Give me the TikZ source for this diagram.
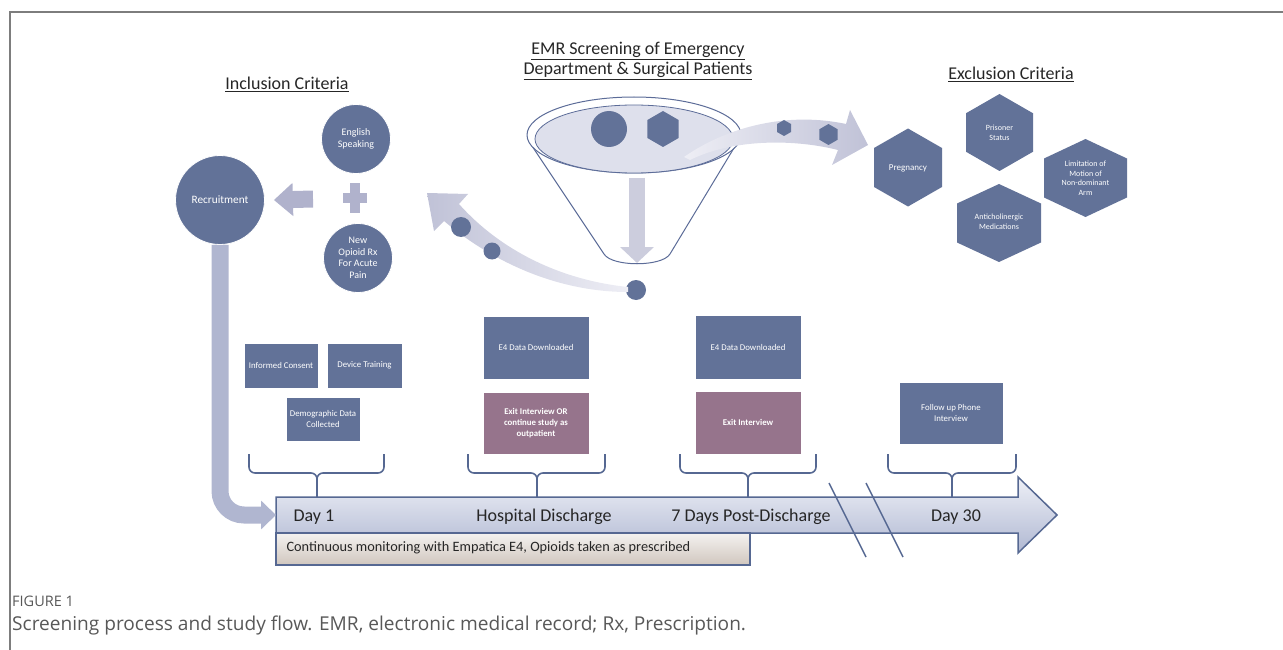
\documentclass[tikz,border=0pt]{standalone}
\usepackage{fontspec}
\setmainfont{Carlito}
\newfontfamily\capfont{Open Sans}
\usetikzlibrary{arrows.meta}

\definecolor{boxblue}{RGB}{98,114,152}
\definecolor{mauve}{RGB}{150,116,140}
\definecolor{plusgray}{RGB}{176,178,204}
\definecolor{recgray}{RGB}{176,182,208}
\definecolor{arrowdark}{RGB}{192,194,215}
\definecolor{arrowlight}{RGB}{238,238,245}
\definecolor{funnelgray}{RGB}{204,205,221}
\definecolor{funnelline}{RGB}{92,108,152}
\definecolor{funnelfill}{RGB}{222,224,236}
\definecolor{lineblue}{RGB}{86,104,146}
\definecolor{tltop}{RGB}{238,240,247}
\definecolor{tlbottom}{RGB}{176,184,210}
\definecolor{beigetop}{RGB}{244,242,240}
\definecolor{beigebot}{RGB}{208,198,190}
\definecolor{titlegray}{RGB}{38,38,38}
\definecolor{framegray}{RGB}{125,125,125}
\definecolor{capgray}{RGB}{88,88,88}

\tikzset{
  taskbox/.style={fill=boxblue, draw=white, line width=0.8pt, text=white,
    align=center, inner sep=2pt, font=\fontsize{8.8}{11}\selectfont},
  exitbox/.style={taskbox, fill=mauve, font=\fontsize{8.8}{11}\selectfont\bfseries},
  critcircle/.style={circle, fill=boxblue, draw=white, line width=0.8pt,
    text=white, align=center, inner sep=0pt, font=\fontsize{10}{11.5}\selectfont},
  hextext/.style={text=white, align=center, font=\fontsize{8}{9.5}\selectfont},
  heading/.style={text=titlegray, align=center, font=\fontsize{18}{20}\selectfont},
  tllabel/.style={text=titlegray, font=\fontsize{18}{20}\selectfont},
  bracket/.style={draw=lineblue, line width=1.6pt, rounded corners=6pt},
  passdot/.style={circle, fill=boxblue, minimum size=20pt, inner sep=0pt},
  inarrow/.style={draw=plusgray, line width=17pt, -{Triangle[length=19pt,width=32pt]}},
  recarrow/.style={draw=recgray, line width=17pt, rounded corners=24pt,
    -{Triangle[length=15pt,width=28pt]}},
  funnelarrow/.style={draw=funnelgray, line width=16pt, -{Triangle[length=16pt,width=33pt]}},
}

% hexagon fill: centre x, centre y, half width, half height
\newcommand\hexfill[4]{\fill[boxblue] (#1,#2-#4) -- (#1+#3,#2-#4/2) -- (#1+#3,#2+#4/2)
  -- (#1,#2+#4) -- (#1-#3,#2+#4/2) -- (#1-#3,#2-#4/2) -- cycle;}

\begin{document}
\begin{tikzpicture}[x=1pt,y=-1pt]
\useasboundingbox (0,0) rectangle (1283,650);
\draw[framegray, line width=1.5pt] (10,650) -- (10,12) -- (1283,12);

% headings
\node[heading] (inchead) at (287,84) {\underline{Inclusion Criteria}};
\node[heading] (emrhead) at (638,61) {\underline{EMR Screening of Emergency}\\\underline{Department \& Surgical Patients}};
\node[heading] (exhead) at (1011,74) {\underline{Exclusion Criteria}};

% inclusion criteria
\node[critcircle, minimum size=69pt] (english) at (356,139) {English\\Speaking};
\fill[plusgray] (343,193) rectangle (367,203);
\fill[plusgray] (350,183) rectangle (360,213);
\node[critcircle, minimum size=69pt] (opioid) at (358,258) {New\\Opioid Rx\\For Acute\\Pain};
\node[critcircle, minimum size=89pt, font=\fontsize{11.3}{13}\selectfont] (recruit) at (220,200) {Recruitment};
\coordinate (plusleft) at (313,199);
\draw[inarrow] (plusleft) -- ([xshift=9pt]recruit.east);

% funnel
\draw[funnelline, line width=1pt, fill=white] (530,143) -- (604,254)
  .. controls (612,267) and (662,267) .. (670,254) -- (737,143);
\draw[funnelline, line width=1pt, fill=white] (634,135) ellipse [x radius=107pt, y radius=38pt];
\draw[funnelline, line width=0.8pt, fill=funnelfill] (634,139) ellipse [x radius=99pt, y radius=34pt];
\fill[boxblue] (609,129) circle [radius=18pt];
\hexfill{663}{129}{15.6}{18}
\node[passdot] (pass) at (636,290) {};
\coordinate (funneltop) at (637,178);
\coordinate (funnelbottom) at (637,263);
\draw[funnelarrow] (funneltop) -- (funnelbottom);

% flow to inclusion
\path[left color=arrowdark, right color=arrowlight] (628,287)
  .. controls (560,280) and (500,250) .. (459,204) -- (468,194) -- (427,193)
  -- (434,231) -- (444,221) .. controls (495,264) and (560,292) .. (628,292) -- cycle;
\fill[boxblue] (461,227) circle [radius=10pt];
\fill[boxblue] (492,251) circle [radius=8.5pt];

% flow to exclusion
\path[left color=arrowlight, right color=arrowdark] (684,157)
  .. controls (730,125) and (790,112) .. (846,124) -- (850,110) -- (868,145)
  -- (832,165) -- (838,150) .. controls (790,138) and (730,140) .. (690,160) -- cycle;
\hexfill{784}{128}{7}{8}
\hexfill{828.5}{134.5}{9.1}{10.5}

% exclusion criteria
\hexfill{908}{167.5}{34}{39}
\node[hextext, font=\fontsize{9}{10.5}\selectfont] (pregnancy) at (908,168) {Pregnancy};
\hexfill{999.5}{132.5}{33.5}{38.5}
\node[hextext] (prisoner) at (999.5,133) {Prisoner\\Status};
\hexfill{1085.5}{178}{41.5}{39}
\node[hextext] (limitation) at (1085.5,178) {Limitation of\\Motion of\\Non-dominant\\Arm};
\hexfill{999}{223}{42}{39}
\node[hextext] (anticho) at (999,222) {Anticholinergic\\Medications};

% study tasks
\node[taskbox, minimum width=74pt, minimum height=45pt] (consent) at (281,365.5) {Informed Consent};
\node[taskbox, minimum width=75pt, minimum height=45pt] (training) at (364.5,365.5) {Device Training};
\node[taskbox, minimum width=74pt, minimum height=44pt] (demog) at (323,419) {Demographic Data\\Collected};
\node[taskbox, minimum width=106pt, minimum height=63pt] (download1) at (536,347.5) {E4 Data Downloaded};
\node[exitbox, minimum width=106pt, minimum height=62pt] (exit1) at (536,423) {Exit Interview OR\\continue study as\\outpatient};
\node[taskbox, minimum width=106pt, minimum height=64pt] (download2) at (748,347) {E4 Data Downloaded};
\node[exitbox, minimum width=106pt, minimum height=63pt] (exit2) at (748,422.5) {Exit Interview};
\node[taskbox, minimum width=104pt, minimum height=62pt] (phone) at (951,413) {Follow up Phone\\Interview};

% brackets
\draw[bracket] (249,454) -- (249,473) -- (317,473) -- (317,497);
\draw[bracket] (384,454) -- (384,473) -- (317,473) -- (317,497);
\draw[bracket] (468,454) -- (468,473) -- (537,473) -- (537,497);
\draw[bracket] (605,454) -- (605,473) -- (537,473) -- (537,497);
\draw[bracket] (680,454) -- (680,473) -- (748,473) -- (748,497);
\draw[bracket] (816,454) -- (816,473) -- (748,473) -- (748,497);
\draw[bracket] (888,454) -- (888,473) -- (952,473) -- (952,497);
\draw[bracket] (1016,454) -- (1016,473) -- (952,473) -- (952,497);

% timeline
\path[top color=tltop, bottom color=tlbottom, draw=lineblue, line width=1.5pt]
  (276,497) -- (1018,497) -- (1018,477) -- (1057,515) -- (1018,553) -- (1018,533) -- (276,533) -- cycle;
\path[top color=beigetop, bottom color=beigebot, draw=lineblue, line width=1.5pt]
  (276,533) rectangle (750,565);
\coordinate (tlstart) at (276,515);
\draw[recarrow] (recruit.south) |- (tlstart);
\node[tllabel, anchor=west] (day1) at (290,517) {Day 1};
\node[tllabel] (discharge) at (544,517) {Hospital Discharge};
\node[tllabel] (post7) at (751,517) {7 Days Post-Discharge};
\node[tllabel] (day30) at (956,517) {Day 30};
\node[anchor=west, text=titlegray, font=\fontsize{14.3}{16}\selectfont] (monitor) at (283,548)
  {Continuous monitoring with Empatica E4, Opioids taken as prescribed};
\draw[lineblue, line width=1.4pt] (829,483) -- (866,557);
\draw[lineblue, line width=1.4pt] (866,483) -- (903,557);

% caption
\node[anchor=base west, inner sep=0pt, text=capgray, font=\capfont\fontsize{14.5}{16}\selectfont] (figlabel) at (12,606) {FIGURE 1};
\node[anchor=base west, inner sep=0pt, text=capgray, font=\capfont\fontsize{19.1}{22}\selectfont] (caption) at (12,630)
  {Screening process and study flow. EMR, electronic medical record; Rx, Prescription.};
\end{tikzpicture}
\end{document}
